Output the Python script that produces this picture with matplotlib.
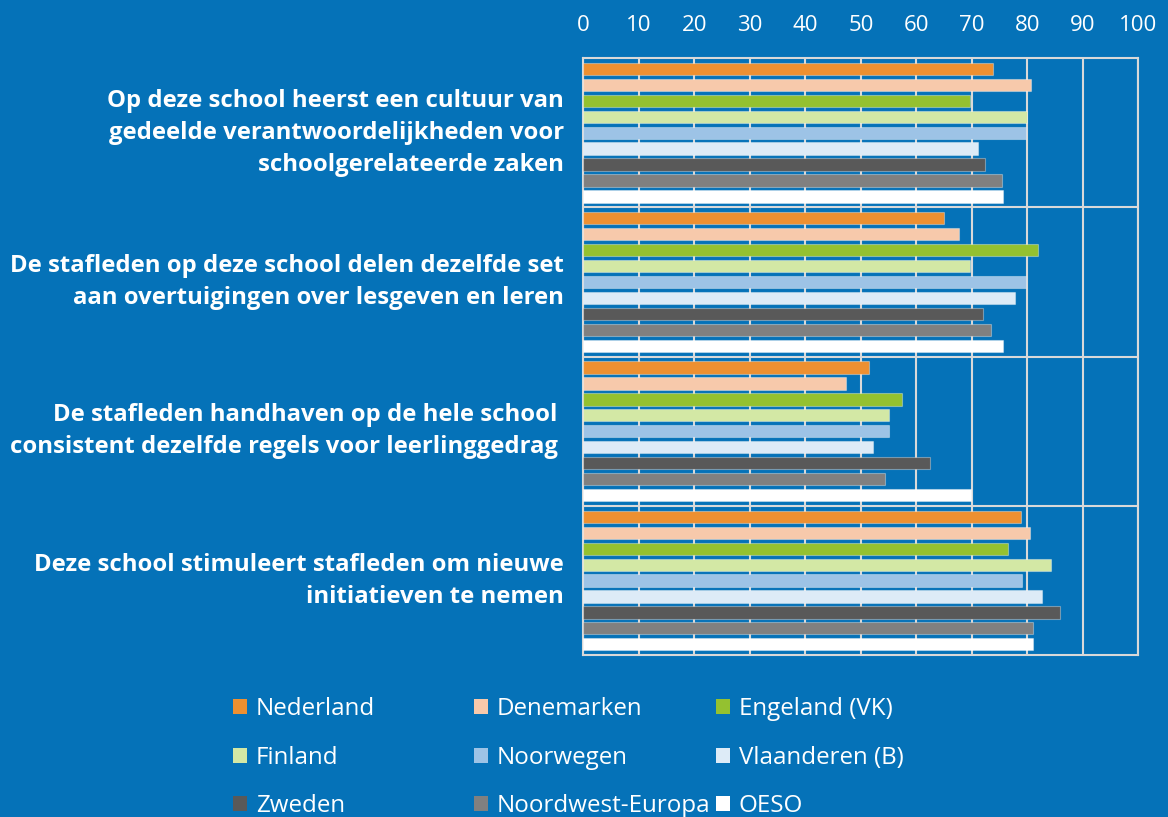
import numpy as np
import matplotlib.pyplot as plt
from matplotlib.patches import Patch

categories = [
    "Op deze school heerst een cultuur van\ngedeelde verantwoordelijkheden voor\nschoolgerelateerde zaken",
    "De stafleden op deze school delen dezelfde set\naan overtuigingen over lesgeven en leren",
    "De stafleden handhaven op de hele school \nconsistent dezelfde regels voor leerlinggedrag ",
    "Deze school stimuleert stafleden om nieuwe\ninitiatieven te nemen",
]
countries = ["Nederland", "Denemarken", "Engeland (VK)", "Finland", "Noorwegen",
             "Vlaanderen (B)", "Zweden", "Noordwest-Europa", "OESO"]
colors = ["#ED9031", "#F7C9AB", "#94C130", "#D3E8A5", "#9DC3E6",
          "#DDEBF7", "#595959", "#808080", "#FFFFFF"]

# one row per country, one value per statement
values = [
    [73.8, 65.0, 51.5, 78.8],  # Nederland
    [80.7, 67.7, 47.4, 80.4],  # Denemarken
    [69.7, 82.0, 57.4, 76.5],  # Engeland (VK)
    [80.0, 69.6, 55.1, 84.2],  # Finland
    [79.7, 79.8, 55.0, 79.0],  # Noorwegen
    [71.2, 77.7, 52.2, 82.6],  # Vlaanderen (B)
    [72.4, 72.1, 62.5, 85.8],  # Zweden
    [75.4, 73.4, 54.4, 81.0],  # Noordwest-Europa
    [75.7, 75.7, 69.9, 81.0],  # OESO
]
xticks = [0, 10, 20, 30, 40, 50, 60, 70, 80, 90, 100]

bg = "#0572B8"
grid = "#D9D9D9"
plt.rcParams['font.family'] = ['Open Sans', 'DejaVu Sans']

fig = plt.figure(figsize=(11.68, 8.17), dpi=100, facecolor=bg)
ax = fig.add_axes([0.4994, 0.198, 0.4752, 0.731])
ax.set_facecolor(bg)

slot = 0.1067
bar_h = 0.082
y = np.arange(len(categories))
for i, (name, vals) in enumerate(zip(countries, values)):
    off = (i - 4) * slot
    ax.barh(y + off, vals, height=bar_h, color=colors[i], label=name,
            edgecolor=(1, 1, 1, 0.35), linewidth=0.8, zorder=3)

ax.set_xlim(0, 100)
ax.set_ylim(3.5, -0.5)
ax.set_xticks(xticks)
ax.xaxis.tick_top()
ax.tick_params(axis='x', length=0, pad=16, labelsize=16, labelcolor='white')
ax.set_yticks([])
ax.grid(axis='x', color=grid, linewidth=1.5, zorder=1)
for b in [0.5, 1.5, 2.5]:
    ax.axhline(b, color=grid, linewidth=1.5, zorder=1)
for s in ax.spines.values():
    s.set_color(grid)
    s.set_linewidth(1.5)

for i, c in enumerate(categories):
    ax.text(-3.5, i, c, ha='right', va='center', color='white', fontsize=17.2,
            fontweight='bold', linespacing=1.45)

# legend in three columns, row by row
handles = [Patch(facecolor=c, edgecolor='none') for c in colors]
col_x = [0.1995, 0.4058, 0.613]
for k in range(3):
    idx = [k, k + 3, k + 6]
    fig.legend([handles[j] for j in idx], [countries[j] for j in idx],
               loc='upper left', bbox_to_anchor=(col_x[k], 0.147),
               frameon=False, fontsize=17.4, labelcolor='white',
               handlelength=0.58, handleheight=0.58, handletextpad=0.37,
               labelspacing=1.02, borderaxespad=0, borderpad=0)

fig.savefig("out.png", dpi=100, facecolor=bg)
